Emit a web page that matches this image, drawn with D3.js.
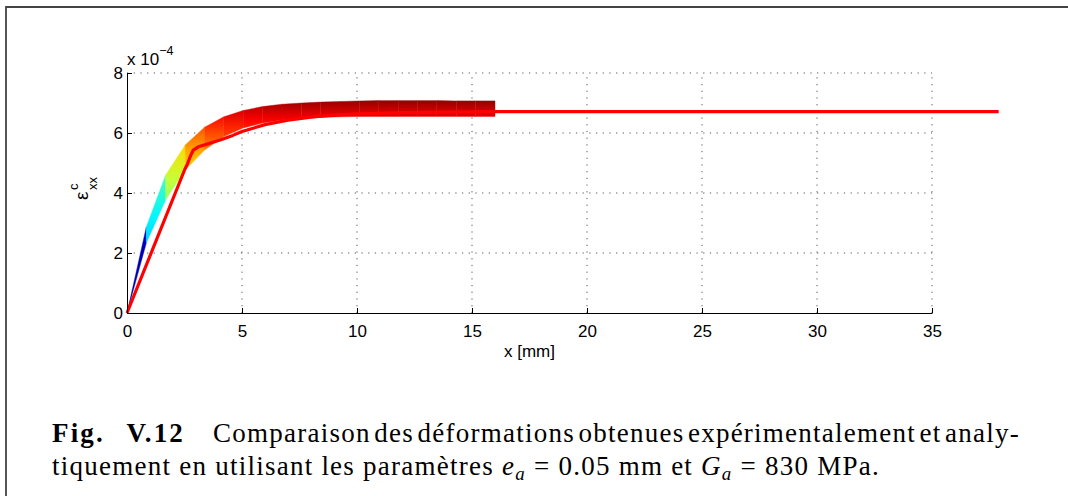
<!DOCTYPE html>
<html><head><meta charset="utf-8">
<script src="https://cdn.jsdelivr.net/npm/d3@7"></script>
<style>
html,body{margin:0;padding:0;background:#fff;}
svg{display:block;}
</style></head>
<body>
<svg id="chart" width="1068" height="496"></svg>
<script>
// ---------- data (strain in units of 1e-4) ----------
const bandX     = [0, 0.84, 1.68, 2.53, 3.37, 4.21, 5.05, 5.89, 6.74, 7.58, 8.42, 9.26, 10.11, 10.95, 11.79, 12.63, 13.47, 14.32, 15.16, 16.0];
const bandUpper = [0, 2.87, 4.60, 5.60, 6.19, 6.54, 6.75, 6.88, 6.96, 7.00, 7.03, 7.05, 7.07, 7.08, 7.08, 7.08, 7.08, 7.07, 7.07, 7.07];
const bandLower = [0, 2.33, 3.77, 4.77, 5.43, 5.88, 6.17, 6.33, 6.43, 6.49, 6.52, 6.54, 6.55, 6.55, 6.55, 6.55, 6.55, 6.55, 6.55, 6.55];
const analX = [0, 2.52, 2.62, 2.74, 2.88, 3.1, 3.6, 4.05, 4.6, 5.0, 6.0, 7.0, 8.0, 9.0, 10.0, 12.0, 14.0, 16.0, 20.0, 30.0, 37.9];
const analY = [0, 4.80, 4.95, 5.20, 5.43, 5.54, 5.66, 5.77, 5.92, 6.05, 6.28, 6.43, 6.53, 6.60, 6.64, 6.68, 6.70, 6.71, 6.71, 6.71, 6.71];
const xTicks = [0, 5, 10, 15, 20, 25, 30, 35];
const yTicks = [0, 2, 4, 6, 8];
const colorDomain = [1.0, 7.2];
const captionBold = "Fig. V.12";
const captionLine1 = ["Comparaison","des","déformations","obtenues","expérimentalement","et","analy-"];

// ---------- setup ----------
const svg = d3.select("#chart");
const x = d3.scaleLinear().domain([0, 35]).range([127, 932]);
const y = d3.scaleLinear().domain([0, 8]).range([313, 73]);
const sans = "'Liberation Sans', Arial, Helvetica, sans-serif";
const serif = "'Liberation Serif', 'Times New Roman', serif";

function jet(t){
  t = Math.max(0, Math.min(1, t));
  const c = v => Math.round(255*Math.max(0, Math.min(1, v)));
  return `rgb(${c(1.5-Math.abs(4*t-3))},${c(1.5-Math.abs(4*t-2))},${c(1.5-Math.abs(4*t-1))})`;
}
const cnorm = d3.scaleLinear().domain(colorDomain).range([0,1]);

// outer frame
svg.append("path").attr("d","M6,496V7H1068").attr("fill","none").attr("stroke","#444").attr("stroke-width",1.8);

// grid
const grid = svg.append("g").attr("stroke","#555").attr("stroke-width",1).attr("stroke-dasharray","1.2,5.5");
xTicks.filter(d=>d>0).forEach(d=>{
  grid.append("line").attr("x1",x(d)).attr("x2",x(d)).attr("y1",y(0)).attr("y2",y(8));
});
yTicks.filter(d=>d>0).forEach(d=>{
  grid.append("line").attr("x1",x(0)).attr("x2",x(35)).attr("y1",y(d)).attr("y2",y(d));
});

// band (experimental) with jet coloring
const defs = svg.append("defs");
const band = svg.append("g");
for (let i=0;i<bandX.length-1;i++){
  const id = "bg"+i;
  const lo = (bandLower[i]+bandLower[i+1])/2, up = (bandUpper[i]+bandUpper[i+1])/2;
  const g = defs.append("linearGradient").attr("id",id).attr("x1",0).attr("y1",1).attr("x2",0).attr("y2",0);
  g.append("stop").attr("offset",0).attr("stop-color",jet(cnorm(lo)));
  g.append("stop").attr("offset",0.35).attr("stop-color",jet(cnorm(lo+0.3*(up-lo))));
  g.append("stop").attr("offset",1).attr("stop-color",jet(cnorm(up)));
  const pts = [[bandX[i],bandLower[i]],[bandX[i+1],bandLower[i+1]],[bandX[i+1],bandUpper[i+1]],[bandX[i],bandUpper[i]]];
  band.append("path")
    .attr("d", "M"+pts.map(p=>[x(p[0]),y(p[1])].join(",")).join("L")+"Z")
    .attr("fill","url(#"+id+")")
    .attr("stroke","url(#"+id+")").attr("stroke-width",0.4);
}

// analytical curve
const line = d3.line().x((d,i)=>x(analX[i])).y((d,i)=>y(analY[i]));
svg.append("path").datum(analX).attr("d",line)
  .attr("fill","none").attr("stroke","#ff0000").attr("stroke-width",3.2).attr("stroke-linejoin","round");

// axes
const xAxis = d3.axisBottom(x).tickValues(xTicks).tickSizeInner(-5).tickSizeOuter(0).tickPadding(12).tickFormat(d3.format("d"));
const gx = svg.append("g").attr("transform",`translate(0,${y(0)})`).call(xAxis);
const yAxis = d3.axisLeft(y).tickValues(yTicks).tickSizeInner(-5).tickSizeOuter(0).tickPadding(4).tickFormat(d3.format("d"));
const gy = svg.append("g").attr("transform",`translate(${x(0)},0)`).call(yAxis);
[gx,gy].forEach(g=>{
  g.selectAll("text").attr("font-family",sans).attr("font-size",17).attr("fill","#000");
  g.selectAll("line").attr("stroke","#000");
  g.select(".domain").attr("stroke","#000");
});

// exponent label
const ex = svg.append("text").attr("x",127).attr("y",65).attr("font-family",sans).attr("font-size",17).attr("fill","#000");
ex.append("tspan").text("x 10");
ex.append("tspan").attr("font-size",12.5).attr("dy",-10).text("−4");

// x label
svg.append("text").attr("x",(x(0)+x(35))/2).attr("y",357).attr("text-anchor","middle")
  .attr("font-family",sans).attr("font-size",17).text("x [mm]");

// y label: epsilon^c_xx rotated
const yl = svg.append("g").attr("transform","translate(88,200) rotate(-90)").attr("font-family",sans).attr("fill","#000");
yl.append("text").attr("x",0).attr("y",0).attr("font-size",19).text("ε");
yl.append("text").attr("x",10).attr("y",-10).attr("font-size",13).text("c");
yl.append("text").attr("x",10).attr("y",9).attr("font-size",13).text("xx");

// caption
const capSize = 27;
const bold = svg.append("text").attr("x",52).attr("y",442).attr("font-family",serif).attr("font-weight","bold").attr("font-size",capSize).text(captionBold);
const bw = bold.node().getComputedTextLength();
bold.attr("word-spacing",Math.max(0,133 - bw)*0.4).attr("letter-spacing",Math.max(0,133 - bw)*0.6/captionBold.length);
const l2 = svg.append("text").attr("x",52).attr("y",475).attr("font-family",serif).attr("font-size",capSize);
l2.append("tspan").text("tiquement en utilisant les paramètres ");
l2.append("tspan").attr("font-style","italic").text("e");
l2.append("tspan").attr("font-style","italic").attr("font-size",capSize*0.7).attr("dy",5).text("a");
l2.append("tspan").attr("dy",-5).text(" = 0.05 mm et ");
l2.append("tspan").attr("font-style","italic").text("G");
l2.append("tspan").attr("font-style","italic").attr("font-size",capSize*0.7).attr("dy",5).text("a");
l2.append("tspan").attr("dy",-5).text(" = 830 MPa.");
const n2 = l2.text().length;
const w2 = l2.node().getComputedTextLength();
const ls = (828 - w2)/n2;
l2.attr("letter-spacing",ls);
// line 1 justified
const words = captionLine1.map(w=>svg.append("text").attr("y",442).attr("font-family",serif).attr("font-size",capSize).attr("letter-spacing",ls).text(w));
const widths = words.map(t=>t.node().getComputedTextLength());
const start = 213, end = 1020;
const gap = (end - start - d3.sum(widths))/(words.length-1);
let cx = start;
words.forEach((t,i)=>{ t.attr("x",cx); cx += widths[i]+gap; });
</script>
</body></html>
